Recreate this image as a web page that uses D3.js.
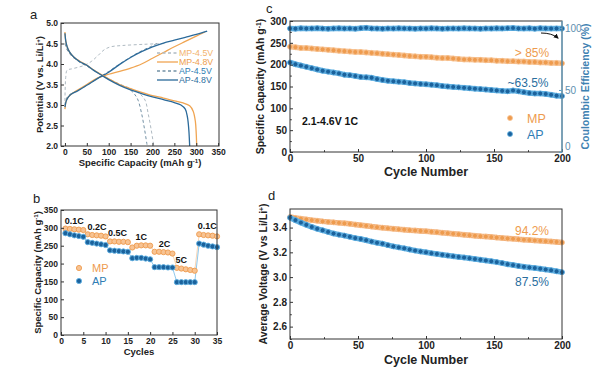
<!DOCTYPE html>
<html><head><meta charset="utf-8">
<script src="https://cdn.jsdelivr.net/npm/d3@7"></script>
<style>body{margin:0;background:#fff}svg{display:block;font-family:"Liberation Sans",Arial,sans-serif}</style>
</head><body>
<svg id="fig" width="605" height="369"></svg>
<script>
// ---------- DATA ----------
// Panel a: voltage profiles [capacity mAh/g, potential V]
const mp48Charge = [[0,2.9],[3,3.1],[8,3.2],[15,3.27],[30,3.37],[50,3.5],[75,3.66],[100,3.75],[125,3.82],[150,3.9],[175,4.0],[200,4.14],[225,4.28],[250,4.42],[275,4.55],[300,4.68],[320,4.78]];
const ap48Charge = [[0,2.95],[3,3.1],[8,3.2],[15,3.27],[30,3.35],[50,3.48],[75,3.65],[100,3.8],[125,3.99],[150,4.16],[175,4.3],[200,4.42],[225,4.51],[250,4.58],[275,4.65],[300,4.72],[325,4.8]];
const mp48Dis = [[0,4.78],[2,4.55],[5,4.42],[10,4.3],[20,4.17],[35,4.06],[50,3.97],[65,3.86],[80,3.76],[100,3.64],[125,3.5],[150,3.4],[175,3.31],[200,3.23],[225,3.17],[250,3.1],[270,3.05],[285,2.98],[293,2.85],[298,2.6],[300,2.3],[301,2.0]];
const ap48Dis = [[0,4.75],[2,4.55],[5,4.42],[10,4.3],[20,4.17],[35,4.05],[50,3.97],[65,3.85],[80,3.75],[100,3.62],[125,3.48],[150,3.37],[175,3.28],[200,3.2],[225,3.13],[250,3.06],[265,3.0],[275,2.9],[280,2.7],[283,2.4],[285,2.0]];
const mp45Charge = [[0,3.1],[2,3.7],[5,3.85],[15,3.88],[30,3.92],[45,3.97],[60,4.06],[75,4.2],[90,4.35],[105,4.42],[130,4.45],[180,4.48],[229,4.5]];
const ap45Charge = [[0,3.0],[3,3.15],[10,3.25],[25,3.33],[50,3.48],[75,3.65],[100,3.82],[125,4.0],[150,4.17],[175,4.32],[195,4.42],[210,4.5]];
const mp45Dis = [[0,4.5],[5,4.35],[15,4.2],[30,4.07],[50,3.95],[80,3.76],[100,3.64],[125,3.51],[150,3.4],[170,3.28],[183,3.12],[190,2.8],[197,2.4],[203,2.0]];
const ap45Dis = [[0,4.5],[5,4.35],[15,4.2],[30,4.07],[50,3.95],[80,3.75],[100,3.63],[125,3.5],[150,3.36],[160,3.25],[167,3.12],[175,2.8],[182,2.4],[188,2.0]];

// Panel b: rate capability
const rateCycles = d3.range(1,36);
const rateMP = [298,297,296,295,294, 282,280,279,278,276, 262,262,261,261,260, 245,250,251,251,250, 233,233,232,231,228, 188,186,184,182,180, 282,280,279,278,276];
const rateAP = [285,282,279,277,275, 260,258,256,254,252, 237,236,235,234,233, 215,216,216,214,212, 190,190,190,189,189, 148,148,148,148,148, 256,253,250,248,246];
const rateLabels = ["0.1C","0.2C","0.5C","1C","2C","5C","0.1C"];
const rateLabelAt = [[3,298],[8.1,280],[12.7,262],[18,251],[23.2,233],[27,188],[32.8,282]]; // [cycle, capacity] anchors

// Panel c: cycling at 1C (every 4th cycle)
const cycles = d3.range(0,201,4);
const capMP = [241,240,238,238,237,236,235,234,233,232,231,230,229,229,228,227,226,225,224,223,222,221,220,219,218,218,217,216,215,215,214,213,212,212,211,211,210,210,209,209,208,208,207,207,206,206,205,205,204,204,203];
const capAP = [205,201,198,195,192,189,186,184,182,180,177,176,174,172,171,170,167,165,163,162,161,160,158,157,156,155,154,153,151,150,149,148,147,146,145,144,143,142,141,140,139,141,139,137,135,134,134,133,131,129,128];
const ceAP = [99.6,99.4,99.7,99.5,99.6,99.8,99.5,99.4,99.6,99.7,99.5,99.6,99.4,99.8,100.1,99.6,99.5,99.4,99.6,99.5,99.7,99.6,99.5,99.4,99.6,99.5,99.7,99.6,99.4,99.5,99.6,99.5,99.7,99.6,99.5,99.4,99.6,99.5,99.7,99.6,99.8,100.0,99.6,99.5,99.7,99.4,99.8,99.6,99.5,99.6,99.5];

// Panel d: average voltage
const voltMP = [3.485,3.478,3.472,3.466,3.460,3.455,3.450,3.446,3.442,3.438,3.434,3.430,3.424,3.419,3.414,3.408,3.403,3.399,3.394,3.390,3.386,3.383,3.379,3.376,3.373,3.370,3.366,3.362,3.358,3.354,3.350,3.346,3.342,3.338,3.334,3.330,3.327,3.323,3.319,3.316,3.312,3.309,3.305,3.302,3.299,3.296,3.293,3.290,3.287,3.284,3.280];
const voltAP = [3.480,3.460,3.440,3.422,3.405,3.390,3.378,3.365,3.352,3.343,3.335,3.325,3.315,3.308,3.298,3.287,3.277,3.270,3.258,3.248,3.240,3.232,3.223,3.214,3.207,3.200,3.193,3.187,3.180,3.174,3.168,3.163,3.158,3.152,3.146,3.140,3.134,3.128,3.121,3.113,3.104,3.097,3.090,3.083,3.078,3.073,3.068,3.061,3.055,3.047,3.040];

// ---------- STYLE ----------
const OR = "#EE9B4E", ORL = "#F7C393", BL = "#1B629C", BLL = "#5FB0E2";
const svg = d3.select("#fig");
svg.append("rect").attr("width",605).attr("height",369).attr("fill","#fff");

function axes(x, y, box, o) {
  const g = svg.append("g");
  const fs = o.fs || 9;
  g.append("g").attr("transform",`translate(0,${box.b})`)
    .call(d3.axisBottom(x).tickValues(o.xt).tickSize(-3).tickPadding(o.xpad||3).tickFormat(o.xf||d3.format("d")));
  g.append("g").attr("transform",`translate(${box.l},0)`)
    .call(d3.axisLeft(y).tickValues(o.yt).tickSize(-3).tickPadding(3).tickFormat(o.yf||d3.format("d")));
  if (o.xm) g.append("g").attr("transform",`translate(0,${box.b})`).call(d3.axisBottom(x).tickValues(o.xm).tickSize(-1.8).tickFormat(""));
  if (o.ym) g.append("g").attr("transform",`translate(${box.l},0)`).call(d3.axisLeft(y).tickValues(o.ym).tickSize(-1.8).tickFormat(""));
  g.selectAll(".domain").remove();
  g.selectAll("text").attr("font-size",fs).attr("font-weight","bold").attr("fill","#222").attr("font-family","'Liberation Sans',Arial,sans-serif");
  g.selectAll("line").attr("stroke","#333");
  g.append("rect").attr("x",box.l).attr("y",box.t).attr("width",box.r-box.l).attr("height",box.b-box.t)
    .attr("fill","none").attr("stroke","#333").attr("stroke-width",1);
  return g;
}
function ytitle(x, yc, parts, fs, color) {
  const t = svg.append("text").attr("transform",`translate(${x},${yc}) rotate(-90)`).attr("text-anchor","middle")
    .attr("font-size",fs).attr("font-weight","bold").attr("fill",color||"#222");
  parts.forEach(p => { const s = t.append("tspan").text(p[0]); if (p[1]) s.attr("baseline-shift","super").attr("font-size",fs*0.65); });
}
function xtitle(x, y, parts, fs) {
  const t = svg.append("text").attr("x",x).attr("y",y).attr("text-anchor","middle")
    .attr("font-size",fs).attr("font-weight","bold").attr("fill","#222");
  parts.forEach(p => { const s = t.append("tspan").text(p[0]); if (p[1]) s.attr("baseline-shift","super").attr("font-size",fs*0.65); });
}
function label(x,y,txt,fs,color,anchor,weight){
  return svg.append("text").attr("x",x).attr("y",y).text(txt).attr("font-size",fs).attr("fill",color||"#222")
    .attr("text-anchor",anchor||"start").attr("font-weight",weight||"normal");
}

// ---------- PANEL A ----------
{
  const box = {l:61,r:219,t:23,b:146};
  const x = d3.scaleLinear().domain([-9,352]).range([box.l,box.r]);
  const y = d3.scaleLinear().domain([2,5]).range([box.b,box.t]);
  const lineY = d3.line().x(d=>x(d[0])).y(d=>y(d[1])).curve(d3.curveCatmullRom);
  svg.append("clipPath").attr("id","clipA").append("rect").attr("x",box.l).attr("y",box.t).attr("width",box.r-box.l).attr("height",box.b-box.t);
  const g = svg.append("g").attr("clip-path","url(#clipA)");
  const curves = [
    [mp45Charge,"#AFBAC2",1,"3,2.5"],[ap45Charge,"#7391A5",1,"3,2.5"],
    [mp45Dis,"#AFBAC2",1,"3,2.5"],[ap45Dis,"#7391A5",1,"3,2.5"],
    [mp48Charge,"#F0A552",1.3,null],[ap48Charge,"#2B6A9A",1.3,null],
    [mp48Dis,"#F0A552",1.3,null],[ap48Dis,"#2B6A9A",1.3,null]
  ];
  curves.forEach(c => g.append("path").attr("d",lineY(c[0])).attr("fill","none").attr("stroke",c[1]).attr("stroke-width",c[2]).attr("stroke-dasharray",c[3]));
  axes(x,y,box,{xt:d3.range(0,351,50), yt:d3.range(2,5.01,0.5), yf:d3.format(".1f"), fs:8.5});
  xtitle(140,166,[["Specific Capacity (mAh g"],["-1",1],[")"]],9.5);
  ytitle(43,84.5,[["Potential (V vs. Li/Li"],["+",1],[")"]],9.5);
  const leg = [["MP-4.5V","#AFBAC2","3,2.5","#F2B36E"],["MP-4.8V","#F0A552",null,"#EE9E4C"],["AP-4.5V","#7391A5","3,2.5","#2F80B5"],["AP-4.8V","#2B6A9A",null,"#2E6E9E"]];
  leg.forEach((d,i)=>{
    const yy = 53 + i*9;
    svg.append("line").attr("x1",157).attr("x2",178).attr("y1",yy).attr("y2",yy).attr("stroke",d[1]).attr("stroke-width",1.3).attr("stroke-dasharray",d[2]);
    label(179,yy+3.2,d[0],8.8,d[3]);
  });
  label(30,19,"a",13);
}

// ---------- PANEL B ----------
{
  const box = {l:61,r:217,t:210,b:335};
  const x = d3.scaleLinear().domain([0,35]).range([box.l,box.r]);
  const y = d3.scaleLinear().domain([0,350]).range([box.b,box.t]);
  const ln = d3.line().x((d,i)=>x(rateCycles[i])).y(d=>y(d));
  svg.append("path").attr("d",ln(rateMP)).attr("fill","none").attr("stroke",ORL).attr("stroke-width",0.7);
  svg.append("path").attr("d",ln(rateAP)).attr("fill","none").attr("stroke",BLL).attr("stroke-width",0.7);
  svg.selectAll(".bmp").data(rateMP).join("circle").attr("cx",(d,i)=>x(rateCycles[i])).attr("cy",d=>y(d)).attr("r",2.6)
    .attr("fill",ORL).attr("stroke",OR).attr("stroke-width",0.9);
  svg.selectAll(".bap").data(rateAP).join("circle").attr("cx",(d,i)=>x(rateCycles[i])).attr("cy",d=>y(d)).attr("r",2.6)
    .attr("fill",BL).attr("stroke",BLL).attr("stroke-width",0.9);
  axes(x,y,box,{xt:d3.range(0,36,5), yt:d3.range(0,351,50), fs:8.5});
  xtitle(139,355,[["Cycles"]],9.5);
  ytitle(41,272.5,[["Specific Capacity (mAh g"],["-1",1],[")"]],9.5);
  rateLabels.forEach((t,i)=>label(x(rateLabelAt[i][0]),y(rateLabelAt[i][1])-5,t,9,"#111","middle","bold"));
  svg.append("circle").attr("cx",79).attr("cy",268).attr("r",2.6).attr("fill",ORL).attr("stroke",OR).attr("stroke-width",0.9);
  svg.append("circle").attr("cx",79).attr("cy",281).attr("r",2.6).attr("fill",BL).attr("stroke",BLL).attr("stroke-width",0.9);
  label(92,272,"MP",11,OR);
  label(92,285,"AP",11,"#2F7DB5");
  label(33,203,"b",13);
}

// ---------- PANEL C ----------
{
  const box = {l:290,r:562,t:21,b:152};
  const x = d3.scaleLinear().domain([0,200]).range([box.l,box.r]);
  const y = d3.scaleLinear().domain([0,300]).range([box.b,box.t]);
  const y2 = d3.scaleLinear().domain([0,105.6]).range([box.b,box.t]);
  const series = [[ceAP,y2,BL,BLL],[capMP,y,OR,ORL],[capAP,y,BL,BLL]];
  series.forEach(s=>{
    const ln = d3.line().x((d,i)=>x(cycles[i])).y(d=>s[1](d));
    svg.append("path").attr("d",ln(s[0])).attr("fill","none").attr("stroke",s[3]).attr("stroke-width",5.5);
    svg.append("g").selectAll("circle").data(s[0]).join("circle").attr("cx",(d,i)=>x(cycles[i])).attr("cy",d=>s[1](d))
      .attr("r",2.5).attr("fill",s[2]).attr("stroke",s[3]).attr("stroke-width",0.8);
  });
  axes(x,y,box,{xt:d3.range(0,201,50), xm:d3.range(25,200,50), yt:d3.range(0,301,50), ym:d3.range(25,300,50), fs:10});
  const ra = svg.append("g").attr("transform",`translate(${box.r},0)`)
    .call(d3.axisRight(y2).tickValues([0,50,100]).tickSize(-3).tickPadding(3));
  ra.select(".domain").remove();
  ra.selectAll("line").attr("stroke","#5F9FC5");
  ra.selectAll("text").attr("font-size",10).attr("fill","#5E8FAF").attr("font-family","'Liberation Sans',Arial,sans-serif")
    .attr("dy",d=>d===0?"-0.3em":"0.32em");
  svg.append("line").attr("x1",box.r).attr("x2",box.r).attr("y1",box.t).attr("y2",box.b).attr("stroke","#6AA8CC").attr("stroke-width",1.2);
  xtitle(426,176,[["Cycle Number"]],12.5);
  ytitle(264,86.5,[["Specific Capacity (mAh g"],["-1",1],[")"]],10.5);
  svg.append("text").attr("transform",`translate(589,86.5) rotate(-90)`).attr("text-anchor","middle")
    .attr("font-size",10.5).attr("font-weight","bold").attr("fill","#3F82B2").text("Coulombic Efficiency (%)");
  label(302,125,"2.1-4.6V 1C",10.5,"#111","start","bold");
  label(532,57,"> 85%",12,OR,"middle");
  label(528,87,"~63.5%",12,"#2A6E9E","middle");
  svg.append("circle").attr("cx",510).attr("cy",118).attr("r",2.5).attr("fill",OR).attr("stroke",ORL).attr("stroke-width",0.8);
  svg.append("circle").attr("cx",510).attr("cy",134).attr("r",2.5).attr("fill",BL).attr("stroke",BLL).attr("stroke-width",0.8);
  label(527,122.5,"MP",12.5,OR);
  label(527,138.5,"AP",12.5,"#2F7DB5");
  const defs = svg.append("defs");
  defs.append("marker").attr("id","arr").attr("viewBox","0 0 10 10").attr("refX",8).attr("refY",5)
    .attr("markerWidth",5).attr("markerHeight",5).attr("orient","auto").append("path").attr("d","M0,0L10,5L0,10z").attr("fill","#111");
  svg.append("path").attr("d","M541,33 Q552,33 558,38").attr("fill","none").attr("stroke","#111").attr("stroke-width",1).attr("marker-end","url(#arr)");
  label(266,13,"c",13);
}

// ---------- PANEL D ----------
{
  const box = {l:290,r:562,t:209,b:339};
  const x = d3.scaleLinear().domain([0,200]).range([box.l,box.r]);
  const y = d3.scaleLinear().domain([2.5,3.55]).range([box.b,box.t]);
  const series = [[voltMP,OR,ORL,"#F2B07A"],[voltAP,BL,BLL,BLL]];
  series.forEach(s=>{
    const ln = d3.line().x((d,i)=>x(cycles[i])).y(d=>y(d));
    svg.append("path").attr("d",ln(s[0])).attr("fill","none").attr("stroke",s[3]).attr("stroke-width",5.5);
    svg.append("g").selectAll("circle").data(s[0]).join("circle").attr("cx",(d,i)=>x(cycles[i])).attr("cy",d=>y(d))
      .attr("r",2.5).attr("fill",s[1]).attr("stroke",s[2]).attr("stroke-width",0.8);
  });
  axes(x,y,box,{xt:d3.range(0,201,50), xm:d3.range(25,200,50), yt:[2.6,2.8,3.0,3.2,3.4], ym:[2.5,2.7,2.9,3.1,3.3,3.5], yf:d3.format(".1f"), fs:10});
  xtitle(426,364,[["Cycle Number"]],12.5);
  ytitle(267,274,[["Average Voltage (V vs Li/Li"],["+",1],[")"]],10.5);
  label(532,235,"94.2%",12,OR,"middle");
  label(532,286,"87.5%",12,"#2A6E9E","middle");
  label(268,200,"d",13);
}
</script>
</body></html>
